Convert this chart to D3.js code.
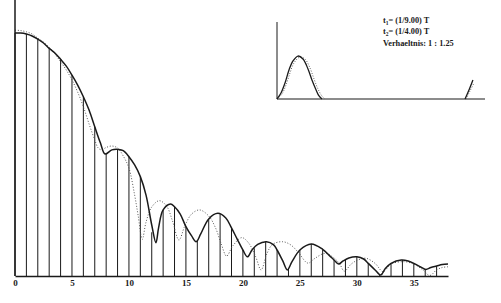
<!DOCTYPE html>
<html><head><meta charset="utf-8">
<script src="https://cdn.jsdelivr.net/npm/d3@7"></script>
<style>body{margin:0;background:#fff}svg{display:block}</style>
</head><body>
<svg id="c" width="501" height="303"></svg>
<script>
// ---- main spectrum data (amplitude in % of the DC line) ----
const harmonics = d3.range(0, 38);
const stemValues = [100, 99.6, 97.5, 93.7, 89.2, 82.7, 73.8, 61.4, 50.6, 52.1,
  49.1, 40.9, 18, 27.2, 28.5, 20.3, 14.8, 23.5, 25.5, 19.8,
  10.7, 11.4, 14.1, 10.7, 3.2, 10.7, 13.2, 11, 6.6, 6.6,
  7.9, 5.2, 0.7, 5.2, 6.6, 5.2, 2.9, 4.1];

const solidFreq = [0, 0.5, 1, 1.5, 2, 2.5, 3, 3.5, 4, 4.5, 5, 5.5, 6, 6.5, 7, 7.5, 7.9, 8.5, 9.1, 9.5,
  10, 10.5, 11, 11.5, 12, 12.37, 12.6, 13, 13.65, 14, 14.5, 15, 15.5, 15.9, 16.3, 17, 17.8, 18.5, 19, 19.5,
  20, 20.4, 20.8, 21.3, 22.07, 22.7, 23, 23.5, 23.9, 24.3, 25, 26, 27, 27.6, 28, 28.4, 28.8, 29.3, 30, 30.6,
  31, 31.6, 32.1, 32.5, 33, 33.9, 34.5, 35, 35.6, 36.05, 36.5, 37, 37.5, 38];
const solidAmp = [100, 100, 99.6, 98.8, 97.5, 95.9, 93.7, 91.8, 89.2, 86.4, 82.7, 78.6, 73.8, 68.3, 61.4, 54.7, 50.2, 51.9, 52.1, 51.6,
  49.1, 45.7, 40.9, 33.3, 21, 13.7, 19.8, 27.2, 29.6, 28.5, 25.5, 20.3, 16.5, 14.1, 17.3, 23.5, 25.8, 23.9, 19.8, 15.2,
  10.7, 7.9, 10.7, 13, 14.1, 12.8, 10.7, 6.2, 2.5, 5.8, 10.7, 13.2, 11, 8.4, 6.6, 4.9, 6.2, 7.4, 7.9, 7,
  5.2, 2.5, 0.4, 3.1, 5.2, 6.6, 6.2, 5.2, 3.7, 2.7, 3.5, 4.1, 4.7, 4.9];

const dottedFreq = [0, 0.5, 1, 1.5, 2, 2.5, 3, 3.5, 4, 4.5, 5, 5.5, 6, 6.5, 7, 7.3, 7.6, 8, 8.5, 9, 9.5,
  10, 10.5, 10.8, 11.17, 11.5, 12, 12.66, 13.3, 13.8, 14.39, 14.9, 15.5, 16.2, 17, 17.6, 18.1, 18.57, 19.1, 19.9,
  20.5, 21.1, 21.6, 22.1, 22.6, 23.5, 24.2, 24.9, 25.7, 26.3, 27.2, 28, 28.5, 28.9, 29.5, 30.1, 30.8, 31.6, 32.3,
  33, 34.1, 35, 35.8, 36.4, 37, 37.5, 38];
const dottedAmp = [101.2, 101, 100.5, 99.6, 97.9, 96.3, 94.1, 91.4, 88.2, 84.8, 80.7, 75.7, 69.7, 62.6, 56, 52.7, 51.9, 52.9, 53.5, 52.7, 49.4,
  44.4, 33.3, 25.1, 15.1, 22.2, 28.4, 31, 28.8, 23, 14.8, 20.6, 25.5, 27.2, 24.7, 19.8, 13.2, 8.2, 12.3, 15.8,
  13.6, 8.2, 2.5, 9.1, 13, 14.1, 12.8, 9.5, 5.3, 7.2, 9.3, 7.4, 4.9, 2, 4.9, 6.6, 7.3, 5.2, 1.8,
  4.9, 5.9, 4.9, 2.5, 0.2, 2.5, 3.5, 3.8];

const xTicks = [0, 5, 10, 15, 20, 25, 30, 35];

// ---- inset: pulse shape over one period (t in units of T) ----
const pulseSolidT = [0, 0.0192, 0.0385, 0.0577, 0.0769, 0.101, 0.125, 0.149, 0.168, 0.188, 0.202, 0.216];
const pulseSolidA = [0, 0.078, 0.208, 0.377, 0.494, 0.558, 0.519, 0.390, 0.247, 0.117, 0.039, 0];
const pulseDotT = [0, 0.024, 0.0433, 0.0625, 0.0817, 0.1106, 0.1346, 0.1587, 0.178, 0.197, 0.216, 0.2308];
const pulseDotA = [0, 0.065, 0.182, 0.338, 0.468, 0.545, 0.519, 0.403, 0.260, 0.130, 0.039, 0];
const tailSolidT = [0.904, 0.923, 0.942];
const tailSolidA = [0, 0.117, 0.247];
const tailDotT = [0.9087, 0.9279, 0.9471];
const tailDotA = [0, 0.104, 0.208];

const infoLines = [["t", "1", "= (1/9.00) T"], ["t", "2", "= (1/4.00) T"], ["Verhaeltnis: 1 : 1.25", "", ""]];

// ---- drawing ----
const svg = d3.select("#c");
const ink = "#1a1a1a";
const x = d3.scaleLinear().domain([0, 38]).range([15, 448]);
const y = d3.scaleLinear().domain([0, 113.6]).range([276, 0]);

// stems
svg.append("g").selectAll("line").data(harmonics).join("line")
  .attr("x1", d => x(d)).attr("x2", d => x(d))
  .attr("y1", y(0)).attr("y2", (d, i) => y(stemValues[i]))
  .attr("stroke", ink).attr("stroke-width", 1);

// dotted envelope
const dotted = dottedFreq.map((f, i) => [f, dottedAmp[i]]);
svg.append("path").datum(dotted)
  .attr("d", d3.line().x(d => x(d[0])).y(d => y(d[1])).curve(d3.curveCatmullRom.alpha(0.5)))
  .attr("fill", "none").attr("stroke", "#555").attr("stroke-width", 1)
  .attr("stroke-dasharray", "1,1.8");

// solid envelope
const solid = solidFreq.map((f, i) => [f, solidAmp[i]]);
svg.append("path").datum(solid)
  .attr("d", d3.line().x(d => x(d[0])).y(d => y(d[1])).curve(d3.curveCatmullRom.alpha(0.5)))
  .attr("fill", "none").attr("stroke", ink).attr("stroke-width", 1.5);

// axes
svg.append("line").attr("x1", x(0)).attr("x2", x(0)).attr("y1", y(113.6)).attr("y2", y(0))
  .attr("stroke", ink).attr("stroke-width", 1.5);
const xAxis = svg.append("g").attr("transform", `translate(0,${y(0)})`)
  .call(d3.axisBottom(x).tickValues(xTicks).tickSize(0).tickPadding(4).tickFormat(d3.format("d")));
xAxis.select(".domain").attr("stroke", ink).attr("stroke-width", 1.5);
xAxis.selectAll("text").attr("font-family", "Liberation Serif, serif").attr("font-weight", "bold")
  .attr("font-size", 9).attr("fill", ink);

// inset
const ix = d3.scaleLinear().domain([0, 1]).range([277, 485]);
const iy = d3.scaleLinear().domain([0, 1]).range([99, 22]);
const inset = svg.append("g");
inset.append("line").attr("x1", ix(0)).attr("x2", ix(0)).attr("y1", iy(1)).attr("y2", iy(0))
  .attr("stroke", ink).attr("stroke-width", 1);
inset.append("line").attr("x1", ix(0)).attr("x2", ix(1)).attr("y1", iy(0)).attr("y2", iy(0))
  .attr("stroke", ink).attr("stroke-width", 1.2);
const iline = d3.line().x(d => ix(d[0])).y(d => iy(d[1])).curve(d3.curveCatmullRom.alpha(0.5));
[[pulseDotT, pulseDotA], [tailDotT, tailDotA]].forEach(([t, a]) => {
  inset.append("path").datum(t.map((v, i) => [v, a[i]])).attr("d", iline)
    .attr("fill", "none").attr("stroke", "#666").attr("stroke-width", 1).attr("stroke-dasharray", "1,1.6");
});
[[pulseSolidT, pulseSolidA], [tailSolidT, tailSolidA]].forEach(([t, a]) => {
  inset.append("path").datum(t.map((v, i) => [v, a[i]])).attr("d", iline)
    .attr("fill", "none").attr("stroke", ink).attr("stroke-width", 1.3);
});

// info text
const info = svg.append("g").attr("font-family", "Liberation Serif, serif")
  .attr("font-weight", "bold").attr("font-size", 8.3).attr("fill", ink);
infoLines.forEach((ln, i) => {
  const t = info.append("text").attr("x", 383).attr("y", 23 + i * 11.3);
  t.append("tspan").text(ln[0]);
  if (ln[1]) {
    t.append("tspan").attr("font-size", 5.5).attr("dy", 2).text(ln[1]);
    t.append("tspan").attr("dy", -2).text(ln[2]);
  }
});
</script>
</body></html>
